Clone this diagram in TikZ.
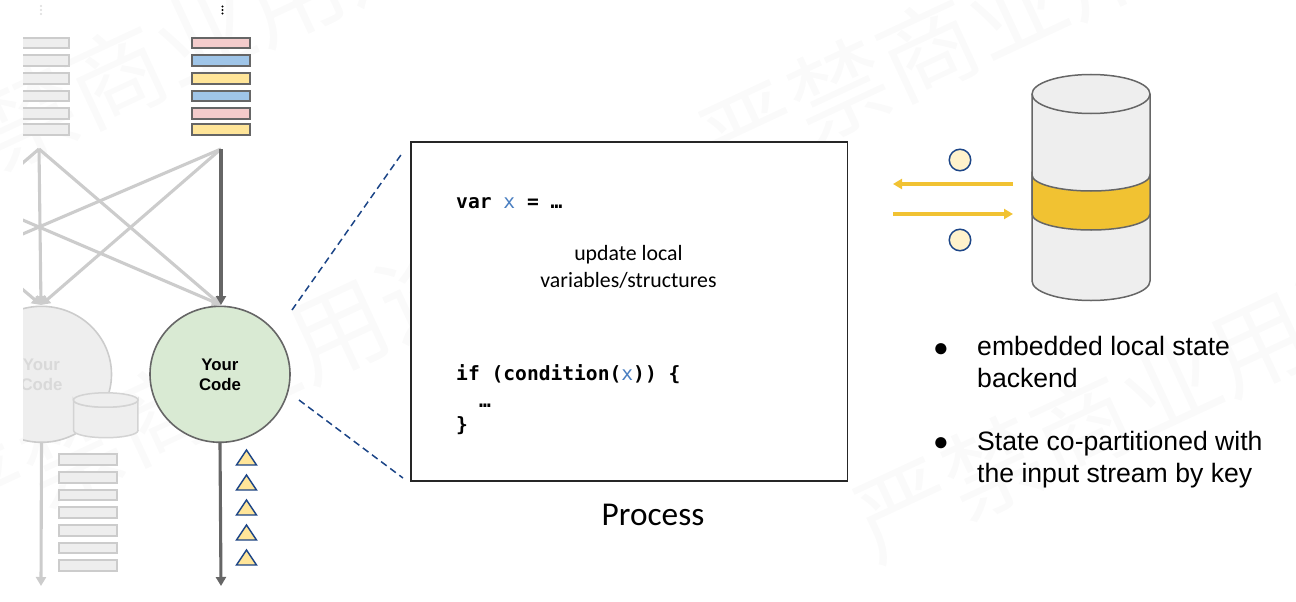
\documentclass[tikz,border=0pt]{standalone}
\usepackage{fontspec}
\setmainfont{Liberation Sans}
\newfontfamily\cali{Carlito}
\newfontfamily\codef{DejaVu Sans Mono}
\newfontfamily\cjk{Noto Sans CJK SC}
\usetikzlibrary{arrows.meta,shapes.geometric}
\definecolor{wm}{HTML}{FAFAFA}
\definecolor{lg}{HTML}{EEEEEE}
\definecolor{lgs}{HTML}{CCCCCC}
\definecolor{dk}{HTML}{666666}
\definecolor{pk}{HTML}{F4CCCC}
\definecolor{bl}{HTML}{9FC5E8}
\definecolor{yl}{HTML}{FFE599}
\definecolor{nv}{HTML}{1C4587}
\definecolor{gr}{HTML}{D9EAD3}
\definecolor{gold}{HTML}{F1C232}
\definecolor{cr}{HTML}{FFF2CC}
\definecolor{xc}{HTML}{4A7FC1}
\tikzset{
  x=1pt,y=-1pt,
  wmark/.style={font=\cjk\fontsize{98}{98}\selectfont,text=wm,rotate=25,inner sep=0},
  barbox/.style={draw,line width=2pt,minimum width=58pt,minimum height=10.5pt,inner sep=0,anchor=center},
  pale/.style={barbox,draw=lgs,fill=lg},
  pkbar/.style={barbox,draw=dk,fill=pk},
  blbar/.style={barbox,draw=dk,fill=bl},
  ylbar/.style={barbox,draw=dk,fill=yl},
  lightline/.style={draw=lgs,line width=3.1pt,-{Triangle[length=9pt,width=10pt]}},
  darkline/.style={draw=dk,line width=3.1pt,-{Triangle[length=9pt,width=10pt]}},
  codecirc/.style={ellipse,inner sep=0,minimum width=140pt,minimum height=136pt,line width=1.6pt,align=center},
  capt/.style={font=\bfseries\fontsize{16.8}{20}\selectfont},
  code/.style={font=\codef\bfseries\fontsize{19.6}{24}\selectfont,anchor=base west,inner sep=0},
  bull/.style={font=\fontsize{26.6}{32}\selectfont,anchor=base west,inner sep=0},
  bdot/.style={font=\fontsize{26}{30}\selectfont,anchor=base west,inner sep=0},
  goldline/.style={draw=gold,line width=3.1pt,-{Triangle[length=9pt,width=10pt]}},
  token/.style={circle,draw=nv,fill=cr,line width=1.5pt,minimum size=21.5pt,inner sep=0},
  dashline/.style={draw=nv,line width=1.5pt,dash pattern=on 7pt off 4.4pt},
}
\begin{document}
\begin{tikzpicture}
\useasboundingbox (0,0) rectangle (1296,602);
% watermark
\node[wmark] (w1) at (160,55) {严禁商业用途};
\node[wmark] (w2) at (972,28) {严禁商业用途};
\node[wmark] (w3) at (205,392) {严禁商业用途};
\node[wmark] (w4) at (1126,405) {严禁商业用途};

% pale left column, clipped at x=23
\begin{scope}
\clip (23,0) rectangle (300,602);
\foreach \y/\n in {43/a,60.5/b,78.5/c,96/d,113.5/e,129.5/f}
  \node[pale] (l\n) at (39.5,\y) {};
\fill[lgs!70] (41,6) circle (1.1pt) (41,10) circle (1.1pt) (41,14) circle (1.1pt);
\coordinate (srcL) at (39,149);
\coordinate (srcR) at (221,149);
\coordinate (srcF) at (-143,149);
\coordinate (tgtL) at (41,305);
\coordinate (tgtR) at (221,305);
\coordinate (tgtF) at (-143,305);
\draw[lightline] (srcF) -- (tgtR);
\draw[lightline] (srcF) -- (tgtL);
\draw[lightline] (srcL) -- (tgtF);
\draw[lightline] (srcR) -- (tgtF);
\draw[lightline] (srcL) -- (tgtL);
\draw[lightline] (srcL) -- (tgtR);
\draw[lightline] (srcR) -- (tgtL);
\node[codecirc,draw=lgs,fill=lg,text=black!15,capt] (cL) at (41.5,374.3) {Your\\Code};
\coordinate (endL) at (41,586);
\draw[lightline] (cL.south) -- (endL);
% small store
\path[draw=lgs!80!lg,fill=lg,line width=1.5pt] (73.5,400) arc[x radius=32.2,y radius=7.2,start angle=180,end angle=0] -- (138,430.5) arc[x radius=32.2,y radius=7.2,start angle=0,end angle=180] -- cycle;
\node[ellipse,draw=lgs!80!lg,fill=lg,line width=1.5pt,minimum width=64.5pt,minimum height=14.4pt,inner sep=0] (store) at (105.7,400) {};
\foreach \y/\n in {459.5/a,477.3/b,494.8/c,512.5/d,530.3/e,547.8/f,565.5/g}
  \node[pale] (o\n) at (88,\y) {};
\end{scope}

% active column
\node[pkbar] (r1) at (221,43) {};
\node[blbar] (r2) at (221,60.5) {};
\node[ylbar] (r3) at (221,78.5) {};
\node[blbar] (r4) at (221,96) {};
\node[pkbar] (r5) at (221,113.5) {};
\node[ylbar] (r6) at (221,129.5) {};
\fill[black] (222.5,6.5) circle (1.1pt) (222.5,10) circle (1.1pt) (222.5,13.5) circle (1.1pt);
\draw[darkline] (srcR) -- (tgtR);
\node[codecirc,draw=dk,fill=gr,capt] (cR) at (220,374.3) {Your\\Code};
\coordinate (endR) at (221,586);
\draw[darkline] (cR.south) -- (endR);
\foreach \y/\n in {465/a,490/b,515/c,540/d,565/e}
  \draw[draw=nv,fill=yl,line width=1.4pt,line join=miter] (236.5,\y) -- (256.5,\y) -- (246.5,\y-15) -- cycle;

% process box
\node[draw=black!85,line width=1.9pt,fill=white,minimum width=436.5pt,minimum height=339pt,inner sep=0] (proc) at (629.2,311.2) {};
\coordinate (dA) at (292,310);
\coordinate (dB) at (403,152);
\coordinate (dC) at (299,400);
\coordinate (dD) at (403,478);
\draw[dashline] (dA) -- (dB);
\draw[dashline] (dC) -- (dD);
\node[code] (c1) at (456,208) {var \textcolor{xc}{\mdseries x} = …};
\node[font=\cali\fontsize{21.8}{27}\selectfont,align=center,inner sep=0] (upd) at (628.5,267) {update local\\variables/structures};
\node[code] (c2) at (456,380) {if (condition(\textcolor{xc}{\mdseries x})) \{};
\node[code] (c3) at (479,407) {…};
\node[code] (c4) at (456,431) {\}};
\node[font=\cali\fontsize{33.3}{38}\selectfont,inner sep=0] (ptitle) at (653,515) {Process};

% store
\draw[draw=dk,fill=lg,line width=1.5pt] (1032,94) arc[x radius=59,y radius=19.5,start angle=-180,end angle=0] -- (1150,281) arc[x radius=59,y radius=19.5,start angle=0,end angle=180] -- cycle;
\draw[draw=dk,line width=1.5pt] (1032,94) arc[x radius=59,y radius=19.5,start angle=180,end angle=0];
\draw[draw=dk,fill=gold,line width=1.5pt] (1032,175) arc[x radius=59,y radius=16,start angle=180,end angle=0] -- (1150,214) arc[x radius=59,y radius=16,start angle=0,end angle=180] -- cycle;
\coordinate (gA) at (1013,184);
\coordinate (gB) at (893,184);
\coordinate (gC) at (893,214);
\coordinate (gD) at (1013,214);
\draw[goldline] (gA) -- (gB);
\draw[goldline] (gC) -- (gD);
\node[token] (t1) at (960,160) {};
\node[token] (t2) at (960,240) {};

% bullets
\node[bdot] (b1) at (933,356) {●};
\node[bull] (s1) at (977,355) {embedded local state};
\node[bull] (s2) at (977,387) {backend};
\node[bdot] (b2) at (933,450) {●};
\node[bull] (s3) at (977,450) {State co-partitioned with};
\node[bull] (s4) at (977,482) {the input stream by key};
\end{tikzpicture}
\end{document}
